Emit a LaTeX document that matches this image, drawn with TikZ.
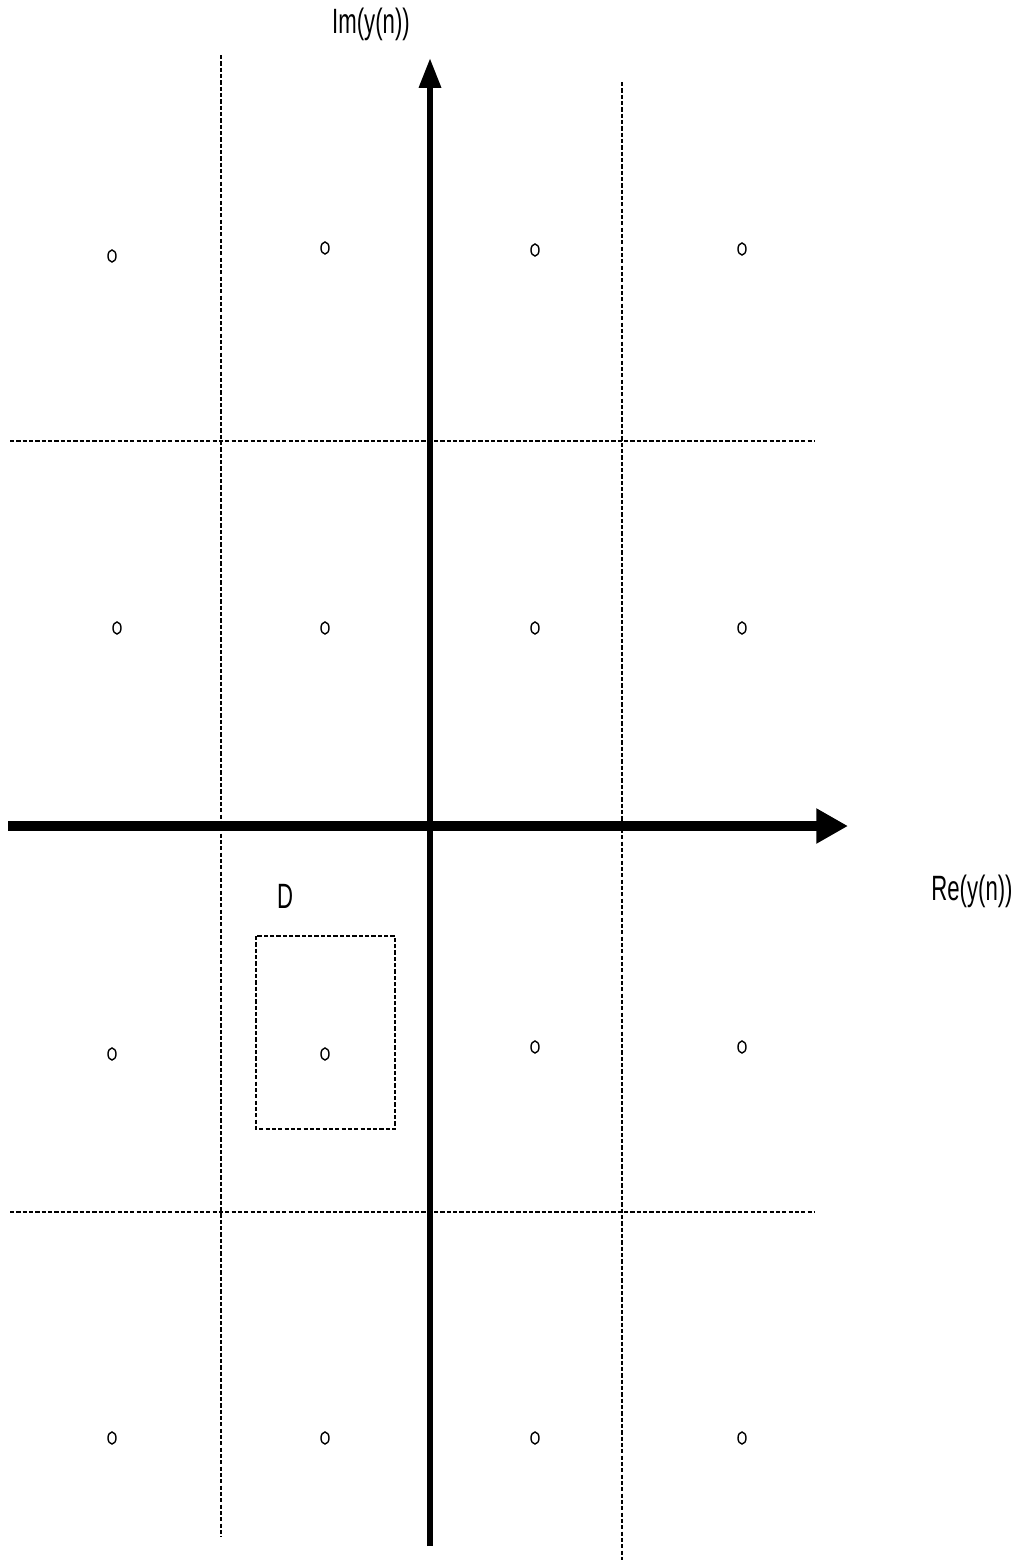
\documentclass[tikz,border=0pt]{standalone}
\usepackage{fontspec}
\setmainfont{Liberation Sans}
\usetikzlibrary{arrows.meta}
\usetikzlibrary{calc, positioning}

\tikzset{
  gridline/.style={line width=0.45pt, dash pattern=on 1.2pt off 0.6pt},
  point/.style={line width=0.4pt},
  axislabel/.style={font=\fontsize{10}{12}\selectfont, xscale=0.63, transform shape, inner sep=0pt}
}

\begin{document}
\begin{tikzpicture}[x=0.01cm, y=-0.01cm]
      \useasboundingbox (0,0) rectangle (1022,1560);

      % axes ends
      \coordinate (Re0) at (8,826);
      \coordinate (Re1) at (848,826);
      \coordinate (Im0) at (430,1546);
      \coordinate (Im1) at (430,58);

      % dashed grid
      \draw[gridline] (221,55) -- (221,1537);
      \draw[gridline] (622,82) -- (622,1560);
      \draw[gridline] (10,441) -- (815,441);
      \draw[gridline] (10,1212) -- (815,1212);

      \draw[line width=2.6pt, -{Triangle[length=9pt, width=9.4pt]}] (Re0) -- (Re1);
      \draw[line width=1.7pt, -{Triangle[length=8.5pt, width=6pt]}] (Im0) -- (Im1);

      \node[axislabel] (im) at (371,24) {Im(y(n))};
      \node[axislabel] (re) at (972,891) {Re(y(n))};
      \node[axislabel] (d) at (285,896) {D};

      % decision region
      \draw[gridline] (256,936) rectangle (395,1129);

      % constellation points
      \draw[point] (112,256) ellipse [x radius=0.04cm, y radius=0.06cm];
      \draw[point] (325,248) ellipse [x radius=0.04cm, y radius=0.06cm];
      \draw[point] (535,250) ellipse [x radius=0.04cm, y radius=0.06cm];
      \draw[point] (742,249) ellipse [x radius=0.04cm, y radius=0.06cm];

      \draw[point] (117,628) ellipse [x radius=0.04cm, y radius=0.06cm];
      \draw[point] (325,628) ellipse [x radius=0.04cm, y radius=0.06cm];
      \draw[point] (535,628) ellipse [x radius=0.04cm, y radius=0.06cm];
      \draw[point] (742,628) ellipse [x radius=0.04cm, y radius=0.06cm];

      \draw[point] (112,1054) ellipse [x radius=0.04cm, y radius=0.06cm];
      \draw[point] (325,1054) ellipse [x radius=0.04cm, y radius=0.06cm];
      \draw[point] (535,1047) ellipse [x radius=0.04cm, y radius=0.06cm];
      \draw[point] (742,1047) ellipse [x radius=0.04cm, y radius=0.06cm];

      \draw[point] (112,1438) ellipse [x radius=0.04cm, y radius=0.06cm];
      \draw[point] (325,1438) ellipse [x radius=0.04cm, y radius=0.06cm];
      \draw[point] (535,1438) ellipse [x radius=0.04cm, y radius=0.06cm];
      \draw[point] (742,1438) ellipse [x radius=0.04cm, y radius=0.06cm];
\end{tikzpicture}
\end{document}
